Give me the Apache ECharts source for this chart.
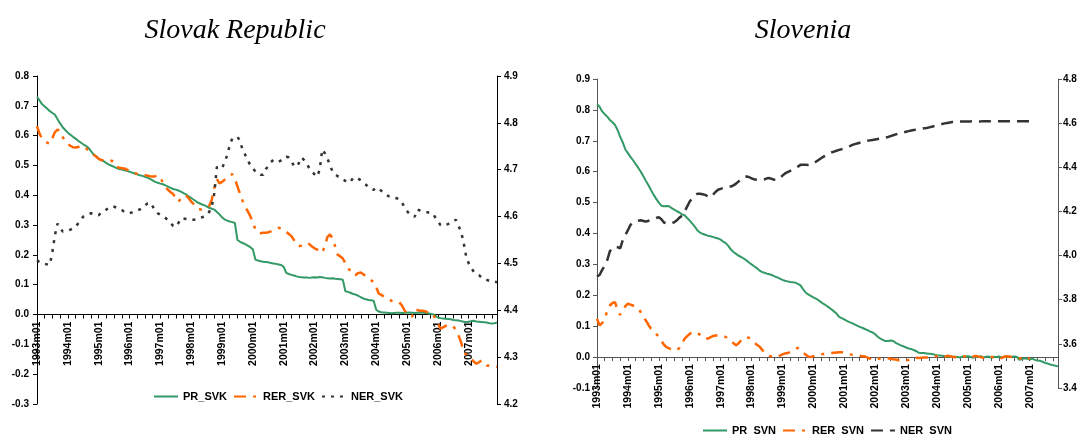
<!DOCTYPE html>
<html><head><meta charset="utf-8">
<script src="https://cdn.jsdelivr.net/npm/echarts@6/dist/echarts.min.js"></script>
<style>html,body{margin:0;padding:0;background:#fff}#c{width:1084px;height:434px}</style>
</head><body><div id="c"></div>
<script>
// ---- categories (monthly, 1993m01 .. 2007m12) ----
const years = [1993,1994,1995,1996,1997,1998,1999,2000,2001,2002,2003,2004,2005,2006,2007];
const months = [];
years.forEach(y => { for (let m = 1; m <= 12; m++) months.push(y + 'm' + (m < 10 ? '0' + m : m)); });

// ---- Slovak Republic ----
const PR_SVK = [
 .730,.718,.705,.698,.690,.682,.676,.670,.655,.641,.628,.619,
 .610,.603,.596,.590,.583,.577,.571,.566,.559,.548,.537,.531,
 .523,.518,.514,.508,.503,.499,.495,.491,.488,.486,.484,.482,
 .479,.476,.473,.470,.467,.465,.462,.459,.455,.450,.445,.442,
 .439,.437,.433,.429,.425,.421,.419,.416,.412,.407,.403,.396,
 .391,.385,.379,.374,.370,.367,.363,.358,.355,.352,.344,.336,
 .326,.319,.315,.312,.310,.307,.250,.244,.240,.236,.231,.226,
 .219,.184,.181,.179,.177,.176,.175,.173,.171,.170,.168,.166,
 .160,.140,.136,.133,.131,.128,.126,.125,.124,.124,.123,.124,
 .125,.124,.126,.125,.123,.122,.121,.122,.120,.119,.118,.117,
 .078,.076,.073,.069,.067,.063,.058,.054,.051,.049,.048,.046,
 .016,.010,.008,.007,.006,.005,.004,.005,.006,.006,.005,.006,
 .006,.007,.006,.005,.006,.007,.006,.005,.004,.003,.001,-.004,
 -.010,-.012,-.013,-.014,-.015,-.016,-.018,-.019,-.020,-.022,-.024,-.026,
 -.024,-.022,-.021,-.023,-.024,-.025,-.026,-.027,-.029,-.030,-.029,-.027
];
const RER_SVK = [
 .632,.606,.590,.582,.576,.573,.592,.612,.620,.615,.595,.582,
 .572,.566,.561,.560,.562,.565,.565,.558,.550,.542,.536,.530,
 .522,.518,.517,.516,.514,.516,.512,.496,.492,.491,.490,.486,
 .480,.477,.474,.472,.470,.469,.468,.466,.464,.463,.464,.466,
 .462,.440,.428,.418,.410,.404,.390,.378,.389,.395,.400,.390,
 .379,.370,.361,.353,.352,.355,.359,.364,.385,.425,.454,.440,
 .445,.452,.460,.466,.471,.455,.430,.405,.381,.362,.347,.330,
 .308,.285,.274,.273,.274,.274,.276,.279,.283,.287,.291,.288,
 .285,.278,.270,.263,.250,.240,.229,.232,.236,.240,.236,.228,
 .222,.218,.212,.207,.229,.260,.269,.255,.229,.201,.195,.188,
 .172,.156,.146,.132,.133,.139,.141,.135,.128,.121,.115,.109,
 .092,.070,.066,.060,.055,.051,.046,.043,.042,.041,.030,.015,
 .002,-.002,-.007,.017,.015,.013,.013,.011,.008,.006,.004,-.015,
 -.030,-.047,-.043,-.038,-.036,-.035,-.040,-.052,-.070,-.092,-.125,-.135,
 -.145,-.150,-.158,-.165,-.160,-.154,-.163,-.171,-.172,-.173,-.174,-.175
];
const NER_SVK = [
 4.507,4.503,4.500,4.499,4.498,4.497,4.525,4.561,4.585,4.576,4.568,4.569,
 4.570,4.572,4.575,4.578,4.585,4.592,4.600,4.603,4.605,4.607,4.606,4.604,
 4.603,4.608,4.611,4.615,4.619,4.622,4.621,4.619,4.617,4.614,4.610,4.608,
 4.607,4.609,4.611,4.614,4.615,4.619,4.624,4.628,4.630,4.622,4.612,4.607,
 4.604,4.600,4.597,4.592,4.586,4.580,4.578,4.586,4.596,4.596,4.595,4.594,
 4.593,4.593,4.594,4.596,4.598,4.600,4.603,4.610,4.621,4.650,4.706,4.704,
 4.703,4.716,4.731,4.752,4.767,4.769,4.770,4.762,4.742,4.732,4.720,4.710,
 4.703,4.696,4.692,4.689,4.689,4.701,4.708,4.716,4.721,4.719,4.717,4.720,
 4.723,4.728,4.726,4.718,4.708,4.706,4.715,4.726,4.720,4.712,4.703,4.696,
 4.690,4.685,4.700,4.743,4.735,4.724,4.710,4.696,4.690,4.686,4.684,4.680,
 4.676,4.672,4.675,4.682,4.684,4.681,4.677,4.672,4.668,4.663,4.659,4.657,
 4.662,4.659,4.655,4.650,4.646,4.643,4.641,4.640,4.639,4.637,4.630,4.620,
 4.612,4.605,4.601,4.600,4.615,4.613,4.611,4.610,4.609,4.608,4.607,4.598,
 4.590,4.582,4.580,4.582,4.584,4.588,4.591,4.593,4.580,4.568,4.545,4.515,
 4.500,4.490,4.482,4.478,4.475,4.470,4.467,4.465,4.463,4.462,4.461,4.460
];

// ---- Slovenia ----
const PR_SVN = [
 .818,.810,.795,.786,.778,.767,.760,.751,.735,.713,.695,.672,
 .660,.648,.637,.625,.613,.600,.585,.570,.556,.540,.525,.512,
 .500,.490,.488,.489,.488,.482,.477,.472,.468,.462,.459,.450,
 .442,.432,.422,.410,.403,.399,.396,.393,.391,.389,.386,.384,
 .380,.374,.369,.360,.348,.340,.334,.328,.324,.319,.313,.306,
 .300,.294,.288,.281,.276,.273,.270,.268,.265,.261,.258,.254,
 .250,.247,.245,.243,.242,.241,.237,.232,.220,.209,.203,.198,
 .193,.189,.184,.178,.172,.167,.161,.155,.148,.141,.130,.126,
 .122,.117,.113,.110,.106,.102,.098,.095,.091,.087,.083,.080,
 .074,.066,.060,.056,.052,.052,.054,.052,.046,.042,.038,.035,
 .031,.028,.026,.023,.019,.014,.013,.013,.012,.011,.010,.008,
 .006,.005,.004,.003,.002,.001,.000,.001,.000,-.001,.002,.001,
 .003,.001,-.002,.002,.000,.003,-.001,.001,.002,-.002,.001,.000,
 .002,-.001,.001,.000,.000,.001,.002,.001,-.009,-.006,-.004,-.005,
 -.008,-.005,-.009,-.011,-.012,-.015,-.019,-.021,-.024,-.026,-.028,-.030
];
const RER_SVN = [
 .124,.103,.110,.124,.150,.167,.175,.178,.151,.137,.150,.165,
 .173,.170,.167,.162,.158,.145,.130,.118,.104,.092,.085,.075,
 .065,.052,.040,.032,.028,.025,.023,.022,.030,.045,.059,.068,
 .075,.080,.081,.078,.072,.066,.059,.060,.064,.068,.070,.070,
 .068,.066,.065,.060,.052,.045,.038,.045,.055,.059,.065,.062,
 .056,.048,.040,.035,.025,.015,.009,.004,.001,.000,.002,.005,
 .009,.012,.013,.016,.020,.025,.030,.022,.015,.008,.002,.000,
 .003,.005,.007,.009,.010,.011,.012,.013,.014,.015,.016,.016,
 .013,.010,.009,.008,.008,.006,.004,.003,.002,-.002,-.005,-.009,
 -.008,-.006,-.004,-.002,-.003,-.004,-.005,-.007,-.008,-.010,-.011,-.012,
 -.011,-.009,-.005,-.002,-.002,-.003,-.002,-.001,-.001,.000,.001,.002,
 .003,.002,.000,.001,.004,.003,.001,.000,-.002,.000,.003,.002,
 .000,-.003,.001,.004,.002,.000,-.002,.001,.003,.001,-.001,.002,
 .000,-.003,.001,.003,.002,.000,-.002,-.001,-.004,-.005,-.007,-.009,
 -.002,null,null,null,null,null,null,null,null,null,null,null
];
const NER_SVN = [
 3.905,3.912,3.935,3.955,3.980,4.020,4.035,4.041,4.038,4.033,4.070,4.093,
 4.115,4.139,4.150,4.155,4.158,4.160,4.157,4.154,4.158,4.163,4.166,4.170,
 4.174,4.165,4.150,4.146,4.144,4.147,4.151,4.160,4.172,4.180,4.200,4.222,
 4.245,4.260,4.272,4.280,4.280,4.278,4.275,4.268,4.263,4.275,4.288,4.298,
 4.302,4.306,4.310,4.312,4.313,4.318,4.326,4.336,4.345,4.355,4.358,4.356,
 4.350,4.346,4.344,4.343,4.343,4.345,4.350,4.351,4.347,4.343,4.343,4.350,
 4.362,4.372,4.378,4.384,4.390,4.396,4.403,4.411,4.412,4.411,4.410,4.411,
 4.417,4.425,4.433,4.441,4.448,4.455,4.461,4.467,4.471,4.475,4.479,4.482,
 4.486,4.491,4.495,4.500,4.505,4.508,4.511,4.514,4.518,4.520,4.522,4.524,
 4.526,4.528,4.530,4.532,4.534,4.537,4.541,4.545,4.549,4.552,4.555,4.558,
 4.561,4.564,4.567,4.569,4.571,4.573,4.575,4.577,4.578,4.581,4.584,4.587,
 4.590,4.593,4.596,4.599,4.601,4.603,4.605,4.606,4.607,4.607,4.608,4.608,
 4.608,4.608,4.609,4.609,4.608,4.608,4.609,4.609,4.609,4.608,4.609,4.609,
 4.609,4.609,4.609,4.609,4.609,4.609,4.609,4.609,4.609,4.609,4.609,4.609,
 4.609,null,null,null,null,null,null,null,null,null,null,null
];

const titles = ['Slovak Republic', 'Slovenia'];
const legendSVK = ['PR_SVK', 'RER_SVK', 'NER_SVK'];
const legendSVN = ['PR_SVN', 'RER_SVN', 'NER_SVN'];

const GREEN = '#339966', ORANGE = '#FF6600', DARK = '#333333';
const FONT = 'Liberation Sans';
const fmt = v => (Math.abs(v) < 1e-9 ? 0 : v).toFixed(1);

const grids = [
  { left: 37, top: 76, width: 460, height: 328, outerBoundsMode: 'none', containLabel: false },
  { left: 597, top: 79, width: 461, height: 309, outerBoundsMode: 'none', containLabel: false }
];
const leftRanges = [[-0.3, 0.8], [-0.1, 0.9]];

// x axis drawn on the zero line of the left value axis (shifted up from the grid bottom)
function xAxis(gi, col) {
  const r = leftRanges[gi];
  const shift = grids[gi].height * (0 - r[0]) / (r[1] - r[0]);
  return {
    type: 'category', gridIndex: gi, data: months, boundaryGap: false, position: 'bottom',
    offset: -shift,
    axisLine: { onZero: false, lineStyle: { color: col, width: 1 } },
    axisTick: { interval: 2, length: 4, lineStyle: { color: col } },
    axisLabel: { interval: 11, rotate: 90, fontSize: 10.5, fontWeight: 'bold', color: '#000', fontFamily: FONT, margin: 7 },
    splitLine: { show: false }
  };
}
function yAxis(gi, pos, min, max, step, col, margin) {
  return {
    type: 'value', gridIndex: gi, position: pos, min: min, max: max, interval: step,
    axisLine: { show: true, lineStyle: { color: col, width: 1 } },
    axisTick: { show: true, length: 4, lineStyle: { color: col } },
    splitLine: { show: false },
    axisLabel: { formatter: fmt, fontSize: 10, fontWeight: 'bold', color: '#000', fontFamily: FONT, margin: margin }
  };
}
function line(name, data, xi, yi, color, width, type, z) {
  return {
    name: name, type: 'line', xAxisIndex: xi, yAxisIndex: yi, data: data,
    symbol: 'none', showSymbol: false, connectNulls: false, z: z,
    lineStyle: { color: color, width: width, type: type },
    itemStyle: { color: color }
  };
}
const legendBase = {
  itemWidth: 24, itemHeight: 10, itemGap: 6,
  itemStyle: { opacity: 0 },
  textStyle: { fontSize: 11, fontWeight: 'bold', color: '#000', fontFamily: FONT }
};
const titleStyle = { fontSize: 28, fontStyle: 'italic', fontFamily: 'Liberation Serif', fill: '#000',
  align: 'center', verticalAlign: 'middle', textAlign: 'center', textVerticalAlign: 'middle' };

const chart = echarts.init(document.getElementById('c'), null, { renderer: 'canvas' });
chart.setOption({
  animation: false,
  backgroundColor: '#fff',
  graphic: [
    { type: 'text', x: 235, y: 31, style: Object.assign({ text: titles[0] }, titleStyle) },
    { type: 'text', x: 803, y: 31, style: Object.assign({ text: titles[1] }, titleStyle) }
  ],
  grid: grids,
  legend: [
    Object.assign({ data: legendSVK, left: 148, top: 386 }, legendBase),
    Object.assign({ data: legendSVN, left: 697, top: 420 }, legendBase)
  ],
  xAxis: [ xAxis(0, '#000'), xAxis(1, '#555') ],
  yAxis: [
    yAxis(0, 'left', -0.3, 0.8, 0.1, '#000', 8),
    yAxis(0, 'right', 4.2, 4.9, 0.1, '#000', 7),
    yAxis(1, 'left', -0.1, 0.9, 0.1, '#555', 7),
    yAxis(1, 'right', 3.4, 4.8, 0.2, '#555', 5)
  ],
  series: [
    line('PR_SVK', PR_SVK, 0, 0, GREEN, 2, 'solid', 3),
    line('RER_SVK', RER_SVK, 0, 0, ORANGE, 2.5, [12, 7, 3, 7], 4),
    line('NER_SVK', NER_SVK, 0, 1, DARK, 2.5, [3, 6], 5),
    line('PR_SVN', PR_SVN, 1, 2, GREEN, 2, 'solid', 3),
    line('RER_SVN', RER_SVN, 1, 2, ORANGE, 2.5, [12, 7, 3, 7], 4),
    line('NER_SVN', NER_SVN, 1, 3, DARK, 2.5, [12, 7], 5)
  ]
});
</script></body></html>
